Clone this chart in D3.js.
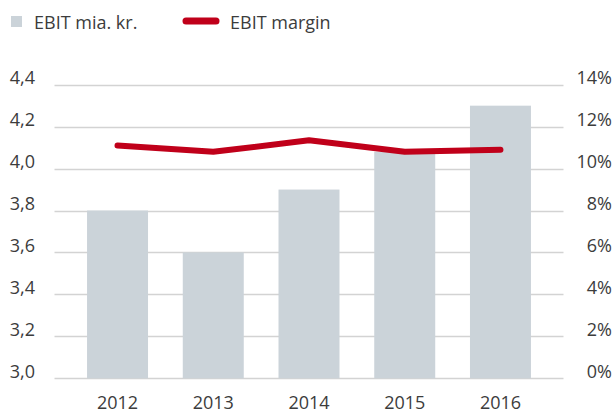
<!DOCTYPE html>
<html>
<head>
<meta charset="utf-8">
<script src="https://cdn.jsdelivr.net/npm/d3@7/dist/d3.min.js"></script>
<style>
  body { margin: 0; background: #fff; }
  svg { display: block; font-family: "Open Sans", sans-serif; }
</style>
</head>
<body>
<div id="chart"></div>
<script>
// data
const years = ["2012", "2013", "2014", "2015", "2016"];
const ebit = [3.8, 3.6, 3.9, 4.08, 4.3];           // mia. kr.
const margin = [11.1, 10.8, 11.35, 10.8, 10.9];    // percent
const leftTicks = [3.0, 3.2, 3.4, 3.6, 3.8, 4.0, 4.2, 4.4];
const rightTicks = [0, 2, 4, 6, 8, 10, 12, 14];

const width = 614, height = 414;
const plot = { left: 54.5, right: 563.5, top: 84.7, bottom: 378.3 };

const svg = d3.select("#chart").append("svg")
    .attr("width", width)
    .attr("height", height);

const x = d3.scaleBand()
    .domain(years)
    .range([plot.left, plot.right])
    .paddingInner(0.363)
    .paddingOuter(0.34);

const yL = d3.scaleLinear().domain([3.0, 4.4]).range([plot.bottom, plot.top]);
const yR = d3.scaleLinear().domain([0, 14]).range([plot.bottom, plot.top]);

const textColor = "#3c3c3c";
const fmt = d3.format(".1f");

// gridlines
svg.append("g")
    .selectAll("line")
    .data(leftTicks)
    .join("line")
    .attr("x1", plot.left)
    .attr("x2", plot.right)
    .attr("y1", d => Math.round(yL(d)) + 0.5)
    .attr("y2", d => Math.round(yL(d)) + 0.5)
    .attr("stroke", "#d3d3d3")
    .attr("stroke-width", 1.3);

// left axis labels (comma decimal)
svg.append("g")
    .selectAll("text")
    .data(leftTicks)
    .join("text")
    .attr("x", 35)
    .attr("y", d => yL(d) - 0.5)
    .attr("text-anchor", "end")
    .attr("font-size", 18)
    .attr("fill", textColor)
    .text(d => fmt(d).replace(".", ","));

// right axis labels
svg.append("g")
    .selectAll("text")
    .data(rightTicks)
    .join("text")
    .attr("x", 612)
    .attr("y", d => yR(d) - 0.5)
    .attr("text-anchor", "end")
    .attr("font-size", 18)
    .attr("fill", textColor)
    .text(d => d + "%");

// bars
svg.append("g")
    .selectAll("rect")
    .data(years)
    .join("rect")
    .attr("x", d => x(d))
    .attr("width", x.bandwidth())
    .attr("y", (d, i) => yL(ebit[i]))
    .attr("height", (d, i) => yL(3.0) - yL(ebit[i]))
    .attr("fill", "#cbd3d9");

// year labels
svg.append("g")
    .selectAll("text")
    .data(years)
    .join("text")
    .attr("x", d => x(d) + x.bandwidth() / 2)
    .attr("y", 409)
    .attr("text-anchor", "middle")
    .attr("font-size", 18)
    .attr("fill", textColor)
    .text(d => d);

// margin line
const line = d3.line()
    .x((d, i) => x(years[i]) + x.bandwidth() / 2)
    .y(d => yR(d));

svg.append("path")
    .datum(margin)
    .attr("d", line)
    .attr("fill", "none")
    .attr("stroke", "#c0001a")
    .attr("stroke-width", 6)
    .attr("stroke-linecap", "round")
    .attr("stroke-linejoin", "round");

// legend
const legend = svg.append("g");
legend.append("rect")
    .attr("x", 11).attr("y", 16)
    .attr("width", 11).attr("height", 11)
    .attr("fill", "#cbd3d9");
legend.append("text")
    .attr("x", 34).attr("y", 29)
    .attr("font-size", 18)
    .attr("fill", textColor)
    .text("EBIT mia. kr.");
legend.append("line")
    .attr("x1", 186).attr("x2", 216)
    .attr("y1", 21).attr("y2", 21)
    .attr("stroke", "#c0001a")
    .attr("stroke-width", 7)
    .attr("stroke-linecap", "round");
legend.append("text")
    .attr("x", 230).attr("y", 29)
    .attr("font-size", 18)
    .attr("fill", textColor)
    .text("EBIT margin");
</script>
</body>
</html>
